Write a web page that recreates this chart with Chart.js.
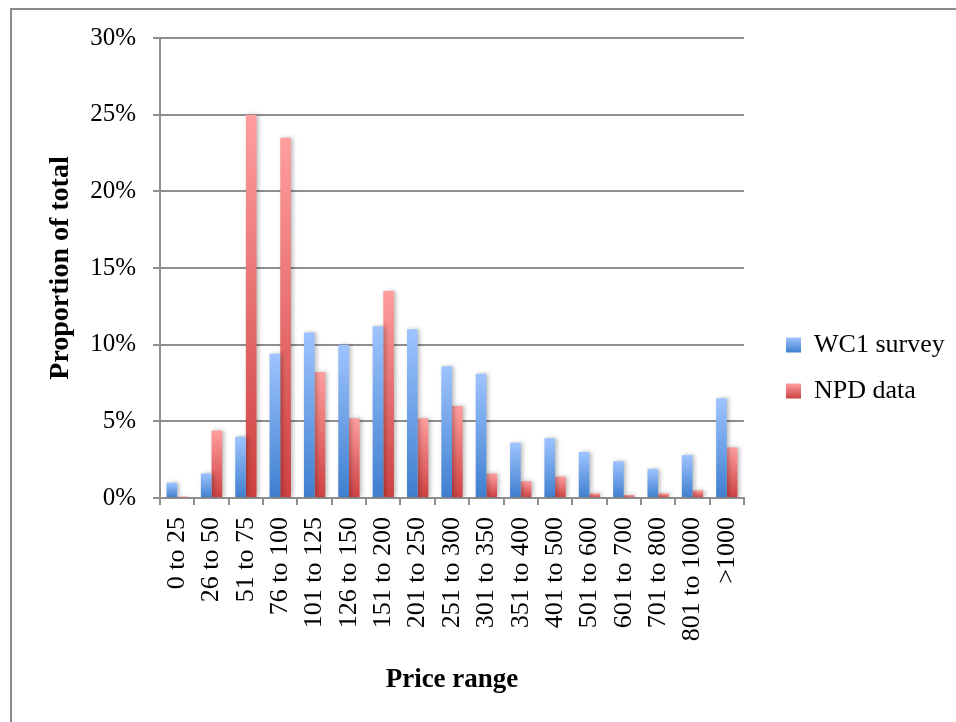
<!DOCTYPE html>
<html><head><meta charset="utf-8">
<script src="https://cdn.jsdelivr.net/npm/chart.js@4.4.1/dist/chart.umd.min.js"></script>
<style>html,body{margin:0;padding:0;background:#fff}#wrap{width:956px;height:722px;position:relative}</style>
</head><body><div id="wrap"><canvas id="c" width="956" height="722"></canvas></div>
<script>
const categories = ["0 to 25","26 to 50","51 to 75","76 to 100","101 to 125","126 to 150","151 to 200","201 to 250","251 to 300","301 to 350","351 to 400","401 to 500","501 to 600","601 to 700","701 to 800","801 to 1000",">1000"];
const wc1Survey = [1.0, 1.6, 4.0, 9.4, 10.8, 10.0, 11.2, 11.0, 8.6, 8.1, 3.6, 3.9, 3.0, 2.4, 1.9, 2.8, 6.5];
const npdData   = [0.1, 4.4, 25.0, 23.5, 8.2, 5.2, 13.5, 5.2, 6.0, 1.6, 1.1, 1.4, 0.3, 0.2, 0.3, 0.5, 3.3];
const seriesNames = ["WC1 survey", "NPD data"];
const yTickValues = [0, 5, 10, 15, 20, 25, 30];

const blueTop = "rgb(158,196,255)", blueBot = "rgb(62,126,206)";
const redTop = "rgb(255,158,158)", redBot = "rgb(206,64,64)";
const gridGray = "#8e8e8e";
const serif = "'Liberation Serif', 'DejaVu Serif', serif";

function barGradient(top, bottom) {
  return function (c) {
    const chart = c.chart;
    if (!chart.chartArea || c.type !== 'data') return bottom;
    const ys = chart.scales.y;
    const y0 = ys.getPixelForValue(c.raw);
    const y1 = ys.getPixelForValue(0);
    if (!isFinite(y0) || !isFinite(y1) || Math.abs(y1 - y0) < 0.5) return top;
    const g = chart.ctx.createLinearGradient(0, y0, 0, y1);
    g.addColorStop(0, top);
    g.addColorStop(1, bottom);
    return g;
  };
}

const LEG_LEFT = 766, LEG_TOP = 312, LEG_PAD = 20, LEG_FONT = 26, LEG_BOX = 15;
const PLOT_RIGHT = 744;

const decor = {
  id: 'decor',
  beforeDraw(chart) {
    const ctx = chart.ctx;
    ctx.save();
    ctx.fillStyle = '#fff';
    ctx.fillRect(0, 0, chart.width, chart.height);
    ctx.strokeStyle = '#8a8a8a';
    ctx.lineWidth = 2;
    ctx.beginPath();
    ctx.moveTo(11, chart.height + 2);
    ctx.lineTo(11, 9);
    ctx.lineTo(chart.width + 2, 9);
    ctx.stroke();
    ctx.restore();
    if (chart.legend) {
      const w = chart.legend.width, h = chart.legend.height;
      chart.legend.left = LEG_LEFT; chart.legend.right = LEG_LEFT + w;
      chart.legend.top = LEG_TOP; chart.legend.bottom = LEG_TOP + h;
    }
  },
  beforeDatasetsDraw(chart) {
    const ctx = chart.ctx;
    ctx.save();
    ctx.shadowColor = 'rgba(0,0,0,0.28)';
    ctx.shadowBlur = 4;
    ctx.shadowOffsetX = 2;
    ctx.shadowOffsetY = 0;
  },
  afterDatasetsDraw(chart) {
    chart.ctx.restore();
  }
};

// measure legend natural width to place plot right edge
const mctx = document.createElement('canvas').getContext('2d');
mctx.font = LEG_FONT + "px " + serif;
const legTextW = Math.max(...seriesNames.map(s => mctx.measureText(s).width));
const legendWidth = LEG_PAD + LEG_BOX + LEG_FONT / 2 + legTextW + 10;
const rightPad = Math.max(0, 956 - PLOT_RIGHT - legendWidth);

new Chart(document.getElementById('c'), {
  type: 'bar',
  data: {
    labels: categories,
    datasets: [
      { label: seriesNames[0], data: wc1Survey, backgroundColor: barGradient(blueTop, blueBot), borderWidth: 0,
        categoryPercentage: 0.62, barPercentage: 1.0 },
      { label: seriesNames[1], data: npdData, backgroundColor: barGradient(redTop, redBot), borderWidth: 0,
        categoryPercentage: 0.62, barPercentage: 1.0 }
    ]
  },
  options: {
    responsive: false,
    animation: false,
    devicePixelRatio: 1,
    layout: { padding: { left: 40, top: 38, right: rightPad, bottom: 20 } },
    plugins: {
      tooltip: { enabled: false },
      legend: {
        position: 'right',
        align: 'start',
        labels: {
          color: '#000',
          font: { family: serif, size: LEG_FONT },
          boxWidth: LEG_BOX,
          boxHeight: LEG_BOX,
          padding: LEG_PAD,
          generateLabels(chart) {
            const items = Chart.defaults.plugins.legend.labels.generateLabels(chart);
            const cols = [[blueTop, blueBot], [redTop, redBot]];
            items.forEach((it, i) => {
              const itemTop = LEG_TOP + LEG_PAD + i * (LEG_FONT + LEG_PAD);
              const bt = itemTop + (LEG_FONT - LEG_BOX) / 2;
              const g = chart.ctx.createLinearGradient(0, bt, 0, bt + LEG_BOX);
              g.addColorStop(0, cols[i][0]);
              g.addColorStop(1, cols[i][1]);
              it.fillStyle = g;
              it.strokeStyle = 'rgba(0,0,0,0)';
              it.lineWidth = 0;
            });
            return items;
          }
        }
      }
    },
    scales: {
      x: {
        grid: { display: true, drawOnChartArea: false, drawTicks: true, tickLength: 7, color: gridGray, lineWidth: 2, offset: true },
        border: { display: true, color: gridGray, width: 2 },
        ticks: { color: '#000', font: { family: serif, size: 26 }, minRotation: 90, maxRotation: 90, padding: 12, autoSkip: false },
        title: { display: true, text: 'Price range', color: '#000', font: { family: serif, size: 27, weight: 'bold' }, padding: { top: 4, bottom: 6 } },
        afterFit(s) { s.height = 722 - 20 - 498; }
      },
      y: {
        min: 0, max: 30,
        afterBuildTicks(s) { s.ticks = yTickValues.map(v => ({ value: v })); },
        grid: { color: gridGray, lineWidth: 2, drawTicks: true, tickLength: 7 },
        border: { display: true, color: gridGray, width: 2 },
        ticks: { color: '#000', font: { family: serif, size: 25 }, padding: 17, callback: v => v + '%' },
        title: { display: true, text: 'Proportion of total', color: '#000', font: { family: serif, size: 28, weight: 'bold' }, padding: { top: 4, bottom: 0 } },
        afterFit(s) { s.width = 120; }
      }
    }
  },
  plugins: [decor]
});
</script>
</body></html>
